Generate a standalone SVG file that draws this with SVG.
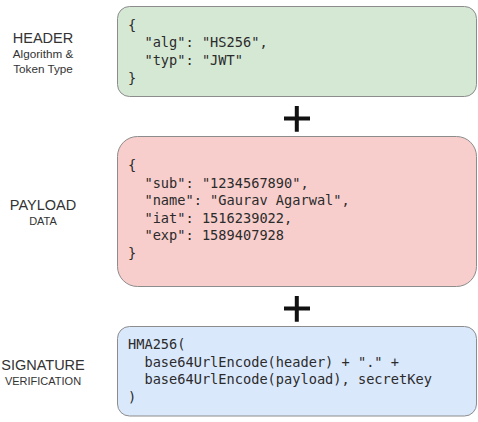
<svg xmlns="http://www.w3.org/2000/svg" width="478" height="422" viewBox="0 0 478 422">
<style>
.box{stroke:#8c8c8c;stroke-width:1}
.code{font-family:"DejaVu Sans Mono","Liberation Mono",monospace;font-size:13.65px;fill:#2b2b2b;white-space:pre}
.lbl{font-family:"Liberation Sans",Arial,sans-serif;fill:#333;text-anchor:middle}
.big{font-size:14.5px}
.small{font-size:11.7px}
.tiny{font-size:11px}
.plus{stroke:#111;stroke-width:4;fill:none}
</style>
<rect width="478" height="422" fill="#fff"/>
<g id="header-label">
<text class="lbl big" x="43" y="43.3">HEADER</text>
<text class="lbl small" x="43" y="57.5">Algorithm &amp;</text>
<text class="lbl small" x="43" y="73">Token Type</text>
</g>
<g id="header">
<rect class="box" x="117.5" y="6.5" width="359" height="90" rx="12" fill="#d5e8d4"/>
<text class="code" xml:space="preserve"><tspan x="128" y="29.6">{</tspan><tspan x="128" y="47.3">  "alg": "HS256",</tspan><tspan x="128" y="65">  "typ": "JWT"</tspan><tspan x="128" y="82.7">}</tspan></text>
</g>
<g id="payload-label">
<text class="lbl big" x="43" y="210">PAYLOAD</text>
<text class="lbl tiny" x="43" y="225">DATA</text>
</g>
<g id="payload">
<rect class="box" x="117.5" y="136.5" width="359" height="150" rx="20" fill="#f8cecc"/>
<text class="code" xml:space="preserve"><tspan x="128" y="170.2">{</tspan><tspan x="128" y="187.7">  "sub": "1234567890",</tspan><tspan x="128" y="205.2">  "name": "Gaurav Agarwal",</tspan><tspan x="128" y="222.7">  "iat": 1516239022,</tspan><tspan x="128" y="240.2">  "exp": 1589407928</tspan><tspan x="128" y="257.7">}</tspan></text>
</g>
<g id="signature-label">
<text class="lbl big" x="43" y="370">SIGNATURE</text>
<text class="lbl tiny" x="43" y="385">VERIFICATION</text>
</g>
<g id="signature">
<rect class="box" x="117.5" y="326.5" width="359" height="89.5" rx="12" fill="#dae8fc"/>
<text class="code" xml:space="preserve"><tspan x="128" y="349.2">HMA256(</tspan><tspan x="128" y="366.7">  base64UrlEncode(header) + "." +</tspan><tspan x="128" y="384.2">  base64UrlEncode(payload), secretKey</tspan><tspan x="128" y="401.7">)</tspan></text>
</g>
<g id="connectors">
<g id="plus1"><path class="plus" d="M284 118.5H310M296.8 106V131.7"/></g>
<g id="plus2"><path class="plus" d="M284 308.5H310M296.8 296V321.7"/></g>
</g>
</svg>
